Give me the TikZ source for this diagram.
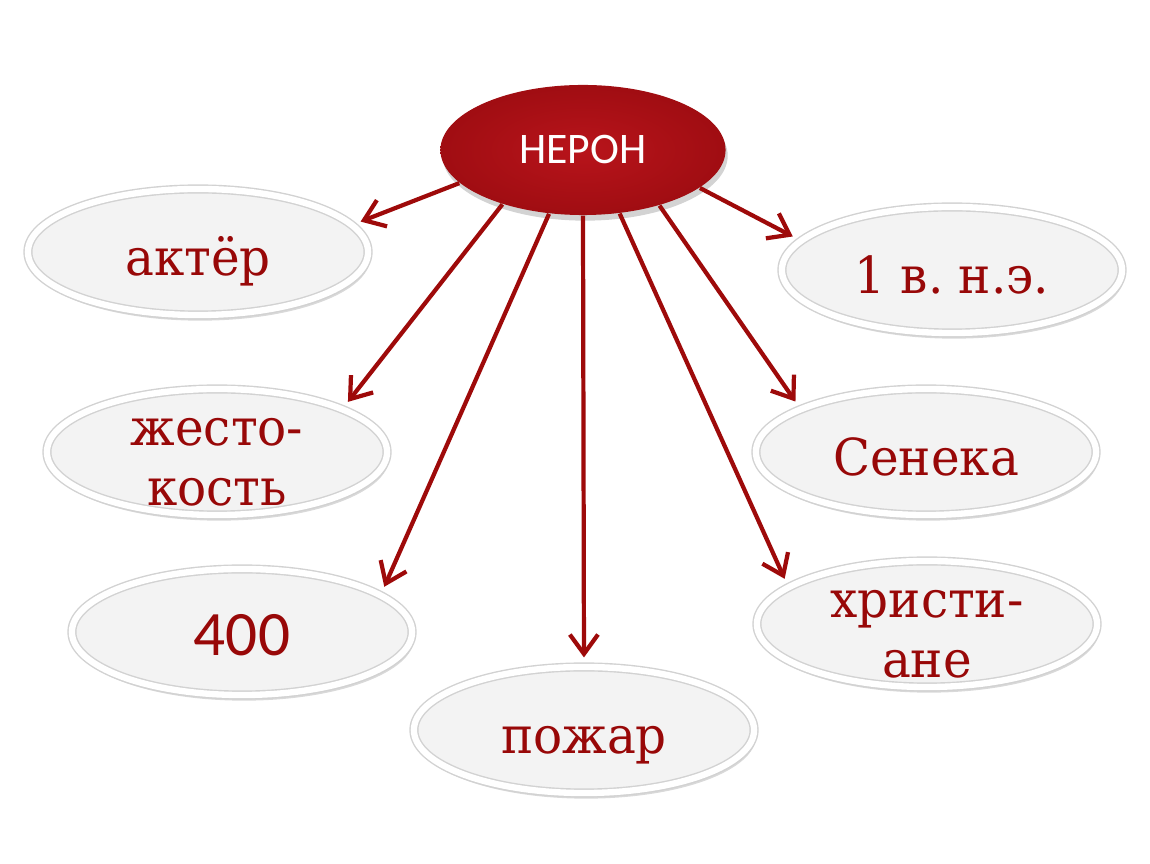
\documentclass[tikz,border=0pt]{standalone}
\usepackage{fontspec}
\setmainfont{DejaVu Serif}[FakeStretch=0.95]
\newfontfamily\carlito{Carlito}
\usetikzlibrary{shapes.geometric,arrows.meta,shadows}
\definecolor{nerored}{HTML}{A00D12}
\definecolor{neroredhi}{HTML}{B8141B}
\definecolor{arrowred}{HTML}{9E0A0A}
\definecolor{textred}{HTML}{980808}
\definecolor{leafgray}{HTML}{F3F3F3}
\frenchspacing
% text sits a little below the middle of each oval
\newcommand{\dn}[1]{\raisebox{-6.8pt}[0pt][0pt]{\begin{tabular}{@{}c@{}}#1\end{tabular}}}
\begin{document}
\begin{tikzpicture}[x=0.01cm,y=-0.01cm,
	leaf/.style={ellipse,draw=gray!35,double=white,double distance=1.8pt,
		fill=leafgray,minimum width=3.4cm,minimum height=1.26cm,inner sep=0pt,
		text=textred,font=\fontsize{14.5}{17}\selectfont,
		drop shadow={shadow xshift=0.6pt,shadow yshift=-1.6pt,opacity=0.3}},
	hub/.style={ellipse,inner color=neroredhi,outer color=nerored,
		minimum width=2.85cm,minimum height=1.3cm,text=white,
		font=\carlito\fontsize{12.4}{15}\selectfont,
		drop shadow={shadow xshift=0.6pt,shadow yshift=-1.6pt,opacity=0.35}},
	>={Straight Barb[length=5.5pt,width=8pt]},
	every edge/.style={draw=arrowred,line width=1.2pt,shorten >=2.5pt}]
	\useasboundingbox (0,0) rectangle (1150,864);
		\node[hub] (N) at (583,150) {НЕРОН};
		\node[leaf] (A) at (198,252) {\dn{актёр}};
		\node[leaf] (B) at (217,452) {\dn{жесто-\\кость}};
		\node[leaf] (C) at (242,632) {\dn{\carlito\fontsize{18}{17}\selectfont 400}};
		\node[leaf] (D) at (584,730) {\dn{пожар}};
		\node[leaf] (E) at (927,624) {\dn{христи-\\ане}};
		\node[leaf] (F) at (926,452) {\dn{Сенека}};
		\node[leaf] (G) at (952,270) {\dn{1 в. н.э.}};
		\path[->] (N.195) edge (A.10);
		\path[->] (N.214) edge (B.19);
		\path[->] (N.242) edge (C.15);
		\path[->] (N.270) edge (D.90);
		\path[->] (N.300) edge (E.165);
		\path[->] (N.324) edge (F.161);
		\path[->] (N.342) edge (G.169);
\end{tikzpicture}
\end{document}
